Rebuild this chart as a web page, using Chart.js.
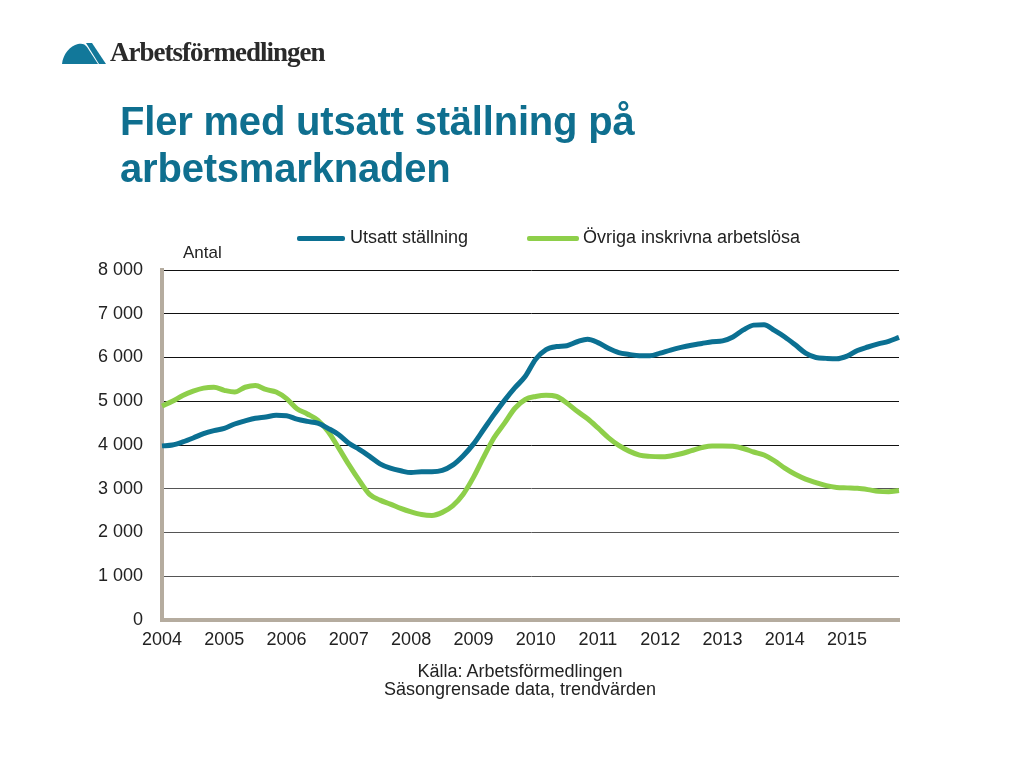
<!DOCTYPE html>
<html>
<head>
<meta charset="utf-8">
<script src="https://cdn.jsdelivr.net/npm/chart.js@4/dist/chart.umd.min.js"></script>
<style>
  html, body { margin:0; padding:0; background:#fff; }
  body { width:1024px; height:768px; position:relative; overflow:hidden; font-family:"Liberation Sans", Arial, sans-serif; }
  #wrap { position:absolute; left:0; top:0; width:1024px; height:768px; }
  .abs { position:absolute; white-space:nowrap; }
  #logoText { left:110px; top:37px; font-family:"Liberation Serif", "DejaVu Serif", serif; font-weight:bold; font-size:27px; color:#2a2a2a; letter-spacing:-1px; }
  #title { left:120px; top:98px; font-weight:bold; font-size:40px; line-height:47px; color:#0f6f8f; letter-spacing:-0.2px; }
  .leg { font-size:18px; color:#222; top:227px; }
  .sw { position:absolute; height:5px; top:236px; border-radius:2px; }
  #antal { left:183px; top:243px; font-size:17px; color:#222; }
  #src { left:370px; width:300px; top:662px; font-size:18px; color:#222; text-align:center; line-height:18px; }
</style>
</head>
<body>
<div id="wrap"><canvas id="c" width="1024" height="768"></canvas></div>
<svg class="abs" style="left:62px;top:42px" width="46" height="24" viewBox="0 0 46 24">
  <path d="M0,22 C1,12 8,4 16,2 C20,1 23,2 25,5 L36,22 Z" fill="#12789a"/>
  <path d="M24,1 L30,1 L44,22 L37,22 Z" fill="#12789a"/>
</svg>
<div id="logoText" class="abs">Arbetsförmedlingen</div>
<div id="title" class="abs">Fler med utsatt ställning på<br>arbetsmarknaden</div>
<div class="sw" style="left:297px;width:48px;background:#0b7092"></div>
<div class="abs leg" style="left:350px">Utsatt ställning</div>
<div class="sw" style="left:527px;width:52px;background:#8ecf4a"></div>
<div class="abs leg" style="left:583px">Övriga inskrivna arbetslösa</div>
<div id="antal" class="abs">Antal</div>
<div id="src" class="abs">Källa: Arbetsförmedlingen<br>Säsongrensade data, trendvärden</div>
<script>
// Bimonthly points, Jan 2004 – Nov 2015
const startYear = 2004;
const endYear = 2015;
const months = [];
for (let y = startYear; y <= endYear; y++) {
  for (let m = 1; m <= 11; m += 2) months.push(y + '-' + String(m).padStart(2, '0'));
}
const seriesNames = ['Utsatt ställning', 'Övriga inskrivna arbetslösa'];
const utsatt = [
  3980, 4000, 4070, 4160, 4260, 4330,
  4380, 4480, 4550, 4610, 4640, 4680,
  4670, 4590, 4540, 4500, 4380, 4240,
  4040, 3900, 3740, 3570, 3470, 3410,
  3370, 3390, 3390, 3420, 3540, 3750,
  4020, 4360, 4700, 5020, 5310, 5570,
  5960, 6180, 6250, 6270, 6360, 6420,
  6340, 6210, 6110, 6070, 6040, 6040,
  6100, 6170, 6230, 6280, 6320, 6360,
  6380, 6470, 6630, 6740, 6750, 6620,
  6470, 6290, 6100, 6000, 5980, 5970,
  6030, 6160, 6240, 6310, 6370, 6460
];
const ovriga = [
  4890, 5000, 5130, 5230, 5300, 5320,
  5250, 5210, 5320, 5360, 5270, 5210,
  5060, 4830, 4710, 4570, 4310, 3940,
  3550, 3190, 2870, 2740, 2650, 2550,
  2470, 2410, 2390, 2460, 2610, 2870,
  3260, 3730, 4170, 4500, 4840, 5040,
  5110, 5140, 5110, 4960, 4770, 4600,
  4390, 4170, 3990, 3860, 3770, 3740,
  3730, 3750, 3800, 3870, 3940, 3980,
  3980, 3970, 3920, 3840, 3770, 3640,
  3470, 3330, 3220, 3140, 3070, 3030,
  3020, 3010, 2980, 2940, 2930, 2960
];
const yMin = 0, yMax = 8000, yStep = 1000;

const fontFam = '"Liberation Sans", Arial, sans-serif';
new Chart(document.getElementById('c'), {
  type: 'line',
  data: {
    labels: months,
    datasets: [
      { label: seriesNames[0], data: utsatt, borderColor: '#0b7092', backgroundColor: '#0b7092', borderWidth: 5, pointRadius: 0, tension: 0.4, cubicInterpolationMode: 'monotone' },
      { label: seriesNames[1], data: ovriga, borderColor: '#8ecf4a', backgroundColor: '#8ecf4a', borderWidth: 5, pointRadius: 0, tension: 0.4, cubicInterpolationMode: 'monotone' }
    ]
  },
  options: {
    responsive: false,
    animation: false,
    events: [],
    layout: { padding: { left: 92, right: 125, top: 270, bottom: 100 } },
    plugins: { legend: { display: false }, tooltip: { enabled: false } },
    scales: {
      x: {
        type: 'category',
        offset: false,
        grid: { display: false, drawTicks: false },
        border: { display: true, color: '#b5ac9f', width: 4 },
        ticks: {
          autoSkip: false, maxRotation: 0, minRotation: 0, padding: 9,
          color: '#222', font: { family: fontFam, size: 18 },
          callback: function(v, i) { const l = months[i]; return l.endsWith('-01') ? l.slice(0, 4) : ''; }
        },
        afterFit: function(s) { s.height = 48; }
      },
      y: {
        min: yMin, max: yMax,
        grid: { drawTicks: false, lineWidth: 1, color: function(ctx) { return ctx.tick && ctx.tick.value <= 3000 ? '#555' : '#111'; } },
        border: { display: true, color: '#b5ac9f', width: 4 },
        ticks: {
          stepSize: yStep, padding: 19, color: '#222', font: { family: fontFam, size: 18 },
          callback: function(v) { return String(v).replace(/\B(?=(\d{3})+(?!\d))/g, ' '); }
        },
        afterFit: function(s) { s.width = 70; }
      }
    }
  }
});
</script>
</body>
</html>
